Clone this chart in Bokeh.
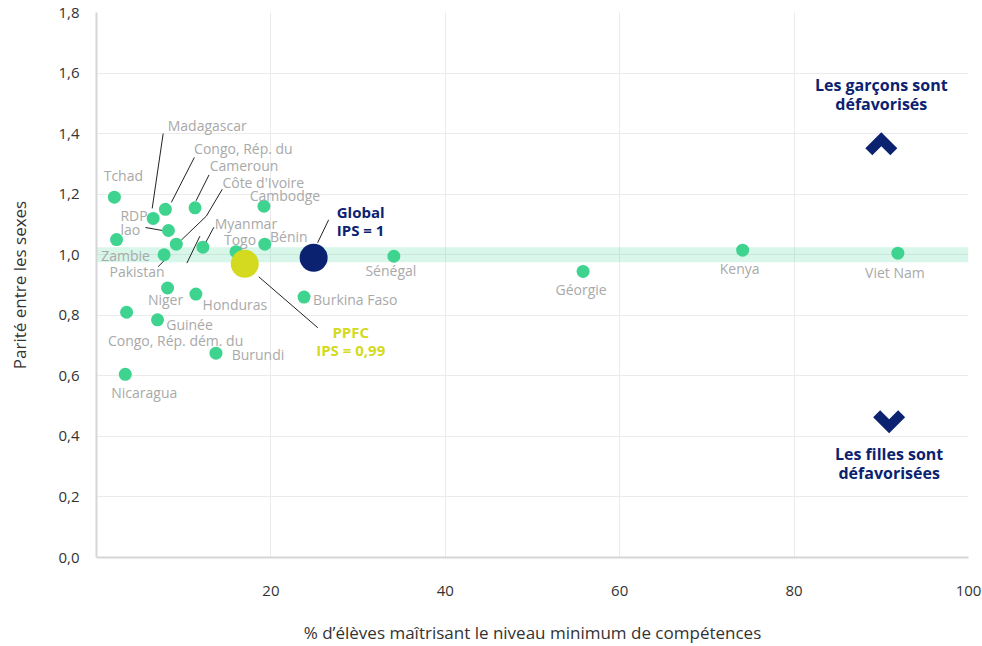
from bokeh.plotting import figure
from bokeh.models import (ColumnDataSource, Range1d, FixedTicker,
                          CustomJSTickFormatter, BoxAnnotation, Label)
from bokeh.core.properties import value
from bokeh.embed import file_html
from bokeh.resources import INLINE

# ---------------- data ----------------
countries = ["Tchad", "Madagascar", "Congo, Rép. du", "Cameroun", "Cambodge",
             "Zambie", "RDP\nlao", "Côte d'Ivoire", "Myanmar", "Bénin",
             "Pakistan", "Togo", "Niger", "Honduras", "Congo, Rép. dém. du",
             "Guinée", "Burundi", "Nicaragua", "Burkina Faso", "Sénégal",
             "Géorgie", "Kenya", "Viet Nam"]
pct = [2.05, 6.5, 7.9, 11.3, 19.2,
       2.3, 8.25, 9.15, 12.2, 19.3,
       7.75, 16.0, 8.15, 11.4, 3.45,
       7.0, 13.7, 3.3, 23.8, 34.1,
       55.8, 74.1, 91.9]
ips = [1.19, 1.12, 1.15, 1.155, 1.16,
       1.05, 1.08, 1.035, 1.025, 1.035,
       1.0, 1.01, 0.89, 0.87, 0.81,
       0.785, 0.675, 0.605, 0.86, 0.995,
       0.945, 1.015, 1.005]

global_name = "Global\nIPS = 1"
global_pct = [24.9]
global_ips = [0.99]
ppfc_name = "PPFC\nIPS = 0,99"
ppfc_pct = [17.0]
ppfc_ips = [0.97]

parity_band = (0.975, 1.025)
x_ticks = [20, 40, 60, 80, 100]
y_ticks = [0, 0.2, 0.4, 0.6, 0.8, 1.0, 1.2, 1.4, 1.6, 1.8]
x_title = "% d’élèves maîtrisant le niveau minimum de compétences"
y_title = "Parité entre les sexes"
boys_note = "Les garçons sont\ndéfavorisés"
girls_note = "Les filles sont\ndéfavorisées"
cut_title = "s"

# ---------------- layout / style ----------------
W, H = 982, 646
BL, BR, BT, BB = 96, 14, 12, 88
FW, FH = W - BL - BR, H - BT - BB
UX, UY = 100.0 / FW, 1.8 / FH   # data units per screen pixel

FONT = "Open Sans"
GREEN = "#3ed48f"
NAVY = "#0b2270"
YELLOW = "#d3da20"
LABEL_GREY = "#a9a9a9"

# label offsets in pixels (dx right, dy down) from each dot
label_off = {
    "Tchad": (9, -22), "Madagascar": (54, -93), "Congo, Rép. du": (78, -61),
    "Cameroun": (49, -42), "Cambodge": (21, -11), "Zambie": (9, 16),
    "RDP\nlao": (-48, -8), "Côte d'Ivoire": (87, -62), "Myanmar": (43, -24),
    "Bénin": (24, -8), "Pakistan": (-27, 17), "Togo": (4, -12),
    "Niger": (-2, 11), "Honduras": (39, 10), "Congo, Rép. dém. du": (49, 28),
    "Guinée": (32, 5), "Burundi": (42, 1), "Nicaragua": (19, 18),
    "Burkina Faso": (9, 2), "Sénégal": (-3, 14), "Géorgie": (-2, 18),
    "Kenya": (-3, 18), "Viet Nam": (-3, 19),
}
left_aligned = {"RDP\nlao", "Burkina Faso"}

# leader lines: list of pixel offsets from the dot
leaders = {
    "Madagascar": [(10, -85), (-1, -10)],
    "Congo, Rép. du": [(29, -52), (6, -7)],
    "Cameroun": [(14, -33), (1, -7)],
    "Côte d'Ivoire": [(46, -55), (30, -28), (5, -4)],
    "RDP\nlao": [(-23, -3), (-6, 0)],
    "Myanmar": [(11, -20), (3, -5)],
    "Pakistan": [(-6, 12), (0, 6)],
}
extra_leader = ("Myanmar", [(-3, -11), (-16, 16)])

p = figure(width=W, height=H, x_range=Range1d(0, 100), y_range=Range1d(0, 1.8),
           output_backend="svg", toolbar_location=None,
           min_border_left=BL, min_border_right=BR,
           min_border_top=BT, min_border_bottom=BB)
p.outline_line_color = None
p.background_fill_color = "white"
p.border_fill_color = "white"

# axes
p.xaxis.ticker = FixedTicker(ticks=x_ticks)
p.yaxis.ticker = FixedTicker(ticks=y_ticks)
p.yaxis.formatter = CustomJSTickFormatter(code="return tick.toFixed(1).replace('.', ',');")
for ax in (p.xaxis[0], p.yaxis[0]):
    ax.major_tick_line_color = None
    ax.minor_tick_line_color = None
    ax.axis_line_color = "#d6d6d6"
    ax.axis_line_width = 2
    ax.major_label_text_font = FONT
    ax.major_label_text_font_size = "15px"
    ax.major_label_text_color = "#333333"
    ax.axis_label_text_font = FONT
    ax.axis_label_text_font_size = "17px"
    ax.axis_label_text_font_style = "normal"
    ax.axis_label_text_color = "#333333"
p.xaxis.axis_label = x_title
p.yaxis.axis_label = y_title
p.xaxis.major_label_standoff = 22
p.xaxis.axis_label_standoff = 22
p.yaxis.major_label_standoff = 11
p.yaxis.axis_label_standoff = 24

p.xgrid.grid_line_color = "#ebebeb"
p.ygrid.grid_line_color = "#ebebeb"

# parity band
p.add_layout(BoxAnnotation(bottom=parity_band[0], top=parity_band[1],
                           fill_color=GREEN, fill_alpha=0.2, line_color=None,
                           level="underlay"))

# leader lines
idx = {c: i for i, c in enumerate(countries)}
lxs, lys = [], []
items = list(leaders.items()) + [extra_leader]
for name, pts in items:
    i = idx[name]
    lxs.append([pct[i] + dx * UX for dx, dy in pts])
    lys.append([ips[i] - dy * UY for dx, dy in pts])
# Global and PPFC leaders
lxs.append([global_pct[0] + 15 * UX, global_pct[0] + 4 * UX])
lys.append([global_ips[0] + 38 * UY, global_ips[0] + 15 * UY])
lxs.append([ppfc_pct[0] + 14 * UX, ppfc_pct[0] + 73 * UX])
lys.append([ppfc_ips[0] - 13 * UY, ppfc_ips[0] - 64 * UY])
p.multi_line(xs=lxs, ys=lys, line_color="#222222", line_width=1)

# country dots
src = ColumnDataSource(dict(x=pct, y=ips, name=countries))
p.scatter("x", "y", source=src, size=13, fill_color=GREEN, line_color=None)

# Global & PPFC
p.scatter(global_pct, global_ips, size=28, fill_color=NAVY, line_color=None)
p.scatter(ppfc_pct, ppfc_ips, size=28, fill_color=YELLOW, line_color=None)

# country labels
cx, cy, ct, lx, ly, lt = [], [], [], [], [], []
for i, c in enumerate(countries):
    dx, dy = label_off[c]
    X, Y = pct[i] + dx * UX, ips[i] - dy * UY
    if c in left_aligned:
        lx.append(X); ly.append(Y); lt.append(c)
    else:
        cx.append(X); cy.append(Y); ct.append(c)
p.text(cx, cy, text=ct, text_align="center", text_baseline="middle",
       text_font=value(FONT), text_font_size="14px", text_color=LABEL_GREY,
       text_line_height=0.76)
p.text(lx, ly, text=lt, text_align="left", text_baseline="middle",
       text_font=value(FONT), text_font_size="14px", text_color=LABEL_GREY,
       text_line_height=0.76)

# Global / PPFC labels
p.text([global_pct[0] + 47 * UX], [global_ips[0] + 37 * UY], text=[global_name],
       text_align="center", text_baseline="middle", text_font=value(FONT),
       text_font_size="15px", text_font_style="bold", text_color=NAVY,
       text_line_height=0.9)
p.text([ppfc_pct[0] + 106 * UX], [ppfc_ips[0] - 77 * UY], text=[ppfc_name],
       text_align="center", text_baseline="middle", text_font=value(FONT),
       text_font_size="15px", text_font_style="bold", text_color=YELLOW,
       text_line_height=0.9)

# notes with chevrons
boys_pos = (90.0, 1.53)
boys_chev = (90.0, 1.365)
girls_pos = (90.9, 0.31)
girls_chev = (90.9, 0.45)
p.text([boys_pos[0]], [boys_pos[1]], text=[boys_note], text_align="center",
       text_baseline="middle", text_font=value(FONT), text_font_size="16px",
       text_font_style="bold", text_color=NAVY, text_line_height=0.85)
p.text([girls_pos[0]], [girls_pos[1]], text=[girls_note], text_align="center",
       text_baseline="middle", text_font=value(FONT), text_font_size="16px",
       text_font_style="bold", text_color=NAVY, text_line_height=0.85)

chev = [(0, 12), (16, -4), (9, -11), (0, -2), (-9, -11), (-16, -4)]  # px, y up
up_x = [boys_chev[0] + a * UX for a, b in chev]
up_y = [boys_chev[1] + b * UY for a, b in chev]
dn_x = [girls_chev[0] + a * UX for a, b in chev]
dn_y = [girls_chev[1] - b * UY for a, b in chev]
p.patches([up_x, dn_x], [up_y, dn_y], fill_color=NAVY, line_color=None)

# fragment of a title at the top left
p.add_layout(Label(x=1, y=37, x_units="canvas", y_units="canvas", text=cut_title,
                   text_align="left", text_baseline="middle", level="overlay",
                   text_font=FONT, text_font_size="20px",
                   text_font_style="bold", text_color=NAVY))

open("out.html", "w").write(file_html(p, INLINE))
